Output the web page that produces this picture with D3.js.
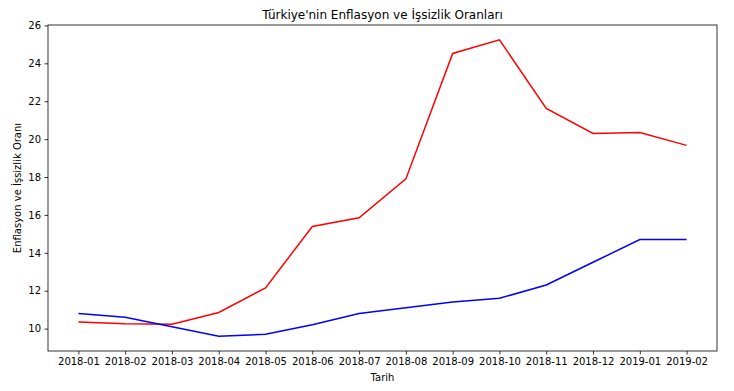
<!DOCTYPE html>
<html><head><meta charset="utf-8">
<script src="https://cdn.jsdelivr.net/npm/d3@7"></script>
<style>body{margin:0;background:#fff}svg{display:block}text{font-family:"DejaVu Sans",sans-serif;fill:#000}</style>
</head><body><svg id="c" width="734" height="391"></svg>
<script>
const months = ["2018-01","2018-02","2018-03","2018-04","2018-05","2018-06","2018-07","2018-08","2018-09","2018-10","2018-11","2018-12","2019-01","2019-02"];
const inflation = [10.35,10.26,10.23,10.85,12.15,15.39,15.85,17.90,24.52,25.24,21.62,20.30,20.35,19.67];
const unemployment = [10.8,10.6,10.1,9.6,9.7,10.2,10.8,11.1,11.4,11.6,12.3,13.5,14.7,14.7];
const yTicks = [10,12,14,16,18,20,22,24,26];

const svg = d3.select("#c");
const L=48,R=717,T=25,B=351;
const n = months.length;
const pad = (n-1)*0.05;
const x = d3.scaleLinear().domain([-pad, n-1+pad]).range([L,R]);
const all = inflation.concat(unemployment);
const mn = d3.min(all), mx = d3.max(all), m=(mx-mn)*0.05;
const y = d3.scaleLinear().domain([mn-m, mx+m]).range([B,T]);

const line = d3.line().x((d,i)=>x(i)).y(d=>y(d));
svg.append("path").datum(inflation).attr("d",line).attr("fill","none").attr("stroke","#ff0000").attr("stroke-width",1.5);
svg.append("path").datum(unemployment).attr("d",line).attr("fill","none").attr("stroke","#0000ff").attr("stroke-width",1.5);

const xa = svg.append("g").attr("transform",`translate(0,${B})`)
  .call(d3.axisBottom(x).tickValues(d3.range(n)).tickFormat(i=>months[i]).tickSize(3.5).tickPadding(3.5));
const ya = svg.append("g").attr("transform",`translate(${L},0)`)
  .call(d3.axisLeft(y).tickValues(yTicks).tickSize(3.5).tickPadding(3.5));
[xa,ya].forEach(g=>{g.select(".domain").remove();g.selectAll("text").attr("font-size",10).attr("font-family","DejaVu Sans").attr("fill","#000");g.selectAll("line").attr("stroke","#000").attr("stroke-width",0.8);});

svg.append("rect").attr("x",L).attr("y",T).attr("width",R-L).attr("height",B-T).attr("fill","none").attr("stroke","#000").attr("stroke-width",0.8);

svg.append("text").attr("x",(L+R)/2).attr("y",19).attr("text-anchor","middle").attr("font-size",12).text("Türkiye'nin Enflasyon ve İşsizlik Oranları");
svg.append("text").attr("x",(L+R)/2).attr("y",381).attr("text-anchor","middle").attr("font-size",10).text("Tarih");
svg.append("text").attr("transform",`translate(21,${(T+B)/2}) rotate(-90)`).attr("text-anchor","middle").attr("font-size",10).text("Enflasyon ve İşsizlik Oranı");
</script></body></html>
